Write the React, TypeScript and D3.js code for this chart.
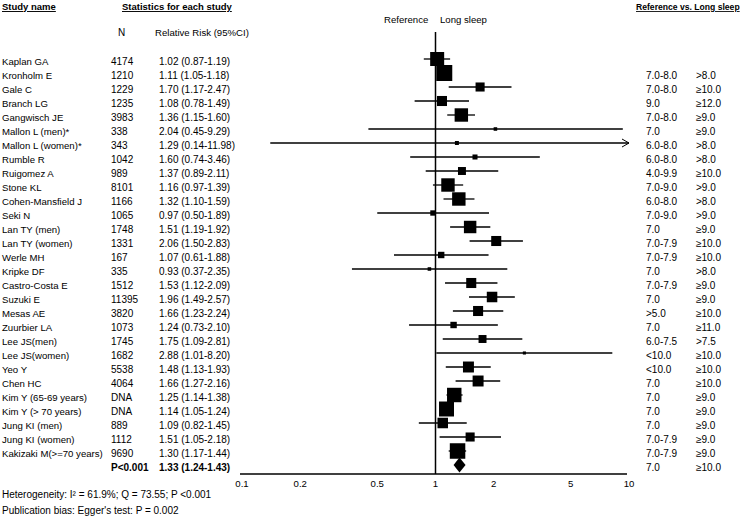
import React from 'react';
import * as d3 from 'd3';

const studies = [
  'Kaplan GA', 'Kronholm E', 'Gale C', 'Branch LG', 'Gangwisch JE', 'Mallon L (men)*', 'Mallon L (women)*',
  'Rumble R', 'Ruigomez A', 'Stone KL', 'Cohen-Mansfield J', 'Seki N', 'Lan TY (men)', 'Lan TY (women)',
  'Werle MH', 'Kripke DF', 'Castro-Costa E', 'Suzuki E', 'Mesas AE', 'Zuurbier LA', 'Lee JS(men)',
  'Lee JS(women)', 'Yeo Y', 'Chen HC', 'Kim Y (65-69 years)', 'Kim Y (> 70 years)', 'Jung KI (men)',
  'Jung KI (women)', 'Kakizaki M(>=70 years)',
];
const nValues = [
  '4174', '1210', '1229', '1235', '3983', '338', '343', '1042', '989', '8101', '1166', '1065', '1748', '1331',
  '167', '335', '1512', '11395', '3820', '1073', '1745', '1682', '5538', '4064', 'DNA', 'DNA', '889', '1112', '9690',
];
const rr = [1.02, 1.11, 1.70, 1.08, 1.36, 2.04, 1.29, 1.60, 1.37, 1.16, 1.32, 0.97, 1.51, 2.06, 1.07, 0.93, 1.53, 1.96, 1.66, 1.24, 1.75, 2.88, 1.48, 1.66, 1.25, 1.14, 1.09, 1.51, 1.30];
const lower = [0.87, 1.05, 1.17, 0.78, 1.15, 0.45, 0.14, 0.74, 0.89, 0.97, 1.10, 0.50, 1.19, 1.50, 0.61, 0.37, 1.12, 1.49, 1.23, 0.73, 1.09, 1.01, 1.13, 1.27, 1.14, 1.05, 0.82, 1.05, 1.17];
const upper = [1.19, 1.18, 2.47, 1.49, 1.60, 9.29, 11.98, 3.46, 2.11, 1.39, 1.59, 1.89, 1.92, 2.83, 1.88, 2.35, 2.09, 2.57, 2.24, 2.10, 2.81, 8.20, 1.93, 2.16, 1.38, 1.24, 1.45, 2.18, 1.44];
// relative weights (%)
const weights = [6.2, 8.1, 2.6, 3.2, 5.7, 0.4, 0.5, 0.8, 2.0, 5.7, 5.7, 0.9, 4.9, 3.2, 1.3, 0.4, 3.2, 3.5, 3.2, 1.3, 2.0, 0.3, 3.8, 3.8, 6.6, 7.1, 3.5, 2.6, 7.6];
const refSleep = [
  '7.0-8.0', '7.0-8.0', '9.0', '7.0-8.0', '7.0', '6.0-8.0', '6.0-8.0', '4.0-9.9', '7.0-9.0', '6.0-8.0', '7.0-9.0',
  '7.0', '7.0-7.9', '7.0-7.9', '7.0', '7.0-7.9', '7.0', '>5.0', '7.0', '6.0-7.5', '<10.0', '<10.0', '7.0', '7.0',
  '7.0', '7.0', '7.0-7.9', '7.0-7.9', '7.0',
];
const longSleep = [
  '>8.0', '≥10.0', '≥12.0', '≥9.0', '≥9.0', '>8.0', '>8.0', '≥10.0', '>9.0', '>8.0', '>9.0', '≥9.0', '≥10.0',
  '≥10.0', '>8.0', '≥9.0', '≥9.0', '≥10.0', '≥11.0', '>7.5', '≥10.0', '≥10.0', '≥10.0', '≥9.0', '≥9.0', '≥9.0',
  '≥9.0', '≥9.0', '≥10.0',
];
// The last reference/long-sleep pair sits on the summary row in the source figure
const summary = { p: 'P<0.001', rr: 1.33, lo: 1.24, hi: 1.43 };
const tickValues = [0.1, 0.2, 0.5, 1, 2, 5, 10];

const fmt = (v: number) => v.toFixed(2);

export default function App() {
  const width = 740;
  const height = 519;
  const font = 'Liberation Sans, Arial, sans-serif';

  const x = d3.scaleLog().domain([0.1, 10]).range([242, 629]);
  const rowY = (i: number) => 59 + i * 14;
  const box = d3.scaleSqrt().domain([0, d3.max(weights) as number]).range([0, 16]);
  const axisY = 474;
  const sumY = rowY(studies.length);

  // right-hand columns start one row below (Kaplan has none) -> aligned with rows 1..29
  return (
    <svg width={width} height={height} style={{ position: 'absolute', left: 0, top: 0, background: '#fff' }} fontFamily={font}>
      {/* headers */}
      <text x={2} y={10} fontSize={9.5} fontWeight="bold" textDecoration="underline">Study name</text>
      <text x={122} y={10} fontSize={9.5} fontWeight="bold" textDecoration="underline">Statistics for each study</text>
      <text x={636} y={10} fontSize={8.6} fontWeight="bold" textDecoration="underline">Reference vs. Long sleep</text>
      <text x={118} y={36} fontSize={10}>N</text>
      <text x={155} y={36} fontSize={9.6}>Relative Risk (95%CI)</text>
      <text x={384} y={23} fontSize={9.6}>Reference</text>
      <text x={440} y={23} fontSize={9.6}>Long sleep</text>

      {/* rows */}
      {studies.map((s, i) => {
        const y = rowY(i);
        const hiClip = Math.min(upper[i], 10);
        const side = box(weights[i]);
        return (
          <g key={s}>
            <text x={2} y={y + 5.5} fontSize={9.6}>{s}</text>
            <text x={111} y={y + 5.5} fontSize={10}>{nValues[i]}</text>
            <text x={159} y={y + 5.5} fontSize={10}>{`${fmt(rr[i])} (${fmt(lower[i])}-${fmt(upper[i])})`}</text>
            <line x1={x(lower[i])} x2={x(hiClip)} y1={y} y2={y} stroke="#000" strokeWidth={1.3} />
            {upper[i] > 10 && (
              <path d={`M${x(10) - 7},${y - 4}L${x(10)},${y}L${x(10) - 7},${y + 4}`} fill="none" stroke="#000" strokeWidth={1} />
            )}
            <rect x={x(rr[i]) - side / 2} y={y - side / 2} width={side} height={side} fill="#000" />
          </g>
        );
      })}

      {refSleep.map((r, i) => (
        <g key={`rs${i}`}>
          <text x={646} y={rowY(i + 1) + 5.5} fontSize={10}>{r}</text>
          <text x={696} y={rowY(i + 1) + 5.5} fontSize={10}>{longSleep[i]}</text>
        </g>
      ))}

      {/* summary */}
      <text x={111} y={sumY + 5.5} fontSize={10} fontWeight="bold">{summary.p}</text>
      <text x={159} y={sumY + 5.5} fontSize={10} fontWeight="bold">{`${fmt(summary.rr)} (${fmt(summary.lo)}-${fmt(summary.hi)})`}</text>
      <path
        d={`M${x(summary.lo)},${sumY}L${x(summary.rr)},${sumY - 7.5}L${x(summary.hi)},${sumY}L${x(summary.rr)},${sumY + 7.5}Z`}
        fill="#000"
      />

      {/* null line */}
      <line x1={x(1)} x2={x(1)} y1={32} y2={axisY} stroke="#000" strokeWidth={1.5} />

      {/* axis */}
      <line x1={x(0.1) - 2} x2={x(10) - 2} y1={axisY} y2={axisY} stroke="#000" strokeWidth={1.5} />
      {tickValues.map((t) => (
        <text key={t} x={x(t)} y={axisY + 13} fontSize={9.6} textAnchor="middle">{String(t)}</text>
      ))}

      {/* footnotes */}
      <text x={2} y={498} fontSize={10}>Heterogeneity: I² = 61.9%; Q = 73.55; P &lt;0.001</text>
      <text x={2} y={514} fontSize={10}>Publication bias: Egger's test: P =  0.002</text>
    </svg>
  );
}
